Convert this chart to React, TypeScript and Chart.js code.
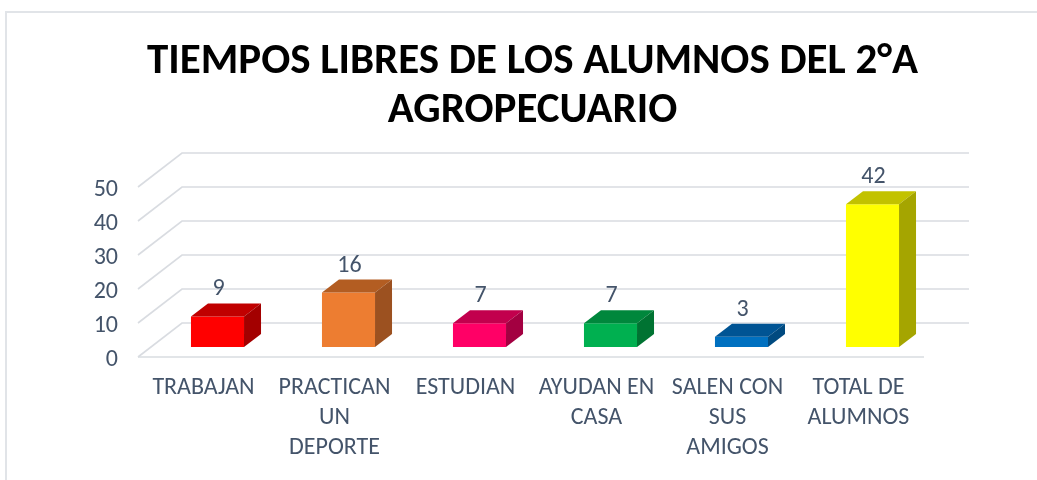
import React, { useEffect, useRef } from 'react';
import { Chart, registerables } from 'chart.js';

Chart.register(...registerables);

const TITLE_LINES = ['TIEMPOS LIBRES DE LOS ALUMNOS DEL 2°A', 'AGROPECUARIO'];
const CATEGORIES = [
  ['TRABAJAN'],
  ['PRACTICAN', 'UN', 'DEPORTE'],
  ['ESTUDIAN'],
  ['AYUDAN EN', 'CASA'],
  ['SALEN CON', 'SUS', 'AMIGOS'],
  ['TOTAL DE', 'ALUMNOS'],
];
const VALUES = [9, 16, 7, 7, 3, 42];
const FRONT_COLORS = ['#FF0000', '#ED7D31', '#FF0066', '#00B050', '#0070C0', '#FFFF00'];
const TOP_COLORS = ['#C00000', '#B35D22', '#C2004D', '#00873C', '#005494', '#C2C200'];
const SIDE_COLORS = ['#A30000', '#9C5120', '#A30041', '#007332', '#004A80', '#A5A500'];
const Y_MIN = 0;
const Y_MAX = 50;
const Y_STEP = 10;

const FONT = "Carlito, 'Liberation Sans Narrow', 'Open Sans', sans-serif";
const TEXT = '#44546A';
const GRID = '#D9DCE1';
const BAR_DX = 17;
const BAR_DY = -13;
const FRONT_DX = -14;
const FRONT_DY = 10;
const BACK_DX = 30;
const BACK_DY = -24;

const threeD = {
  id: 'threeD',
  beforeDraw(chart: any) {
    const { ctx } = chart;
    ctx.save();
    ctx.fillStyle = '#FFFFFF';
    ctx.fillRect(0, 0, chart.width, chart.height);
    ctx.strokeStyle = '#E1E4E8';
    ctx.lineWidth = 2;
    ctx.beginPath();
    ctx.moveTo(6, chart.height);
    ctx.lineTo(6, 12);
    ctx.lineTo(chart.width, 12);
    ctx.stroke();
    ctx.restore();
  },
  beforeDatasetsDraw(chart: any) {
    const { ctx, chartArea, scales } = chart;
    const y = scales.y;
    const left = chartArea.left;
    const right = chartArea.right;
    ctx.save();
    ctx.strokeStyle = GRID;
    ctx.lineWidth = 1.6;
    y.ticks.forEach((t: any) => {
      const p = y.getPixelForValue(t.value);
      ctx.beginPath();
      ctx.moveTo(left + FRONT_DX, p + FRONT_DY);
      ctx.lineTo(left + BACK_DX, p + BACK_DY);
      ctx.lineTo(right + BACK_DX + 1, p + BACK_DY);
      ctx.stroke();
    });
    const p0 = y.getPixelForValue(0);
    ctx.beginPath();
    ctx.moveTo(left + FRONT_DX, p0 + FRONT_DY);
    ctx.lineTo(right + FRONT_DX, p0 + FRONT_DY);
    ctx.stroke();
    ctx.restore();
  },
  afterDatasetsDraw(chart: any) {
    const { ctx } = chart;
    const meta = chart.getDatasetMeta(0);
    ctx.save();
    meta.data.forEach((bar: any, i: number) => {
      const { x, y, width, base } = bar.getProps(['x', 'y', 'width', 'base'], true);
      const l = x - width / 2;
      const r = x + width / 2;
      ctx.fillStyle = TOP_COLORS[i];
      ctx.beginPath();
      ctx.moveTo(l, y);
      ctx.lineTo(l + BAR_DX, y + BAR_DY);
      ctx.lineTo(r + BAR_DX, y + BAR_DY);
      ctx.lineTo(r, y);
      ctx.closePath();
      ctx.fill();
      ctx.fillStyle = SIDE_COLORS[i];
      ctx.beginPath();
      ctx.moveTo(r, y);
      ctx.lineTo(r + BAR_DX, y + BAR_DY);
      ctx.lineTo(r + BAR_DX, base + BAR_DY);
      ctx.lineTo(r, base);
      ctx.closePath();
      ctx.fill();
      ctx.fillStyle = TEXT;
      ctx.font = `24px ${FONT}`;
      ctx.textAlign = 'center';
      ctx.textBaseline = 'middle';
      ctx.fillText(String(VALUES[i]), x + 1, y - 27);
    });
    ctx.restore();
  },
};

export default function App() {
  const ref = useRef<HTMLCanvasElement | null>(null);
  useEffect(() => {
    if (!ref.current) return;
    const chart = new Chart(ref.current, {
      type: 'bar',
      data: {
        labels: CATEGORIES,
        datasets: [
          {
            data: VALUES,
            backgroundColor: FRONT_COLORS,
            borderWidth: 0,
            barPercentage: 0.405,
            categoryPercentage: 1,
          },
        ],
      },
      options: {
        responsive: false,
        animation: false,
        devicePixelRatio: 1,
        layout: { padding: { left: 28, right: 0, top: 0, bottom: 0 } },
        plugins: {
          legend: { display: false },
          tooltip: { enabled: false },
          title: {
            display: true,
            text: TITLE_LINES,
            color: '#000000',
            font: { family: FONT, size: 43, weight: 'bold', lineHeight: 49 / 43 },
            padding: { top: 37.5, bottom: 41.5 },
          },
        },
        scales: {
          x: {
            grid: { display: false, drawTicks: false },
            border: { display: false },
            ticks: {
              color: TEXT,
              font: { family: FONT, size: 24, lineHeight: 30 / 24 },
              padding: 26,
              labelOffset: -14,
              maxRotation: 0,
              autoSkip: false,
            },
            afterFit: (s: any) => {
              s.height = 133;
            },
          },
          y: {
            min: Y_MIN,
            max: Y_MAX,
            grid: { display: false, drawTicks: false },
            border: { display: false },
            ticks: {
              stepSize: Y_STEP,
              color: TEXT,
              font: { family: FONT, size: 24 },
              padding: 34,
              labelOffset: 12.5,
            },
            afterFit: (s: any) => {
              s.width = 124;
            },
          },
          y2: {
            position: 'right',
            display: true,
            grid: { display: false, drawTicks: false },
            border: { display: false },
            ticks: { display: false },
            afterFit: (s: any) => {
              s.width = 99;
            },
          },
        },
      },
      plugins: [threeD],
    });
    return () => chart.destroy();
  }, []);
  return (
    <div style={{ position: 'absolute', left: 0, top: 0, width: 1037, height: 480, background: '#fff' }}>
      <canvas ref={ref} width={1037} height={480} style={{ width: 1037, height: 480, display: 'block' }} />
    </div>
  );
}
